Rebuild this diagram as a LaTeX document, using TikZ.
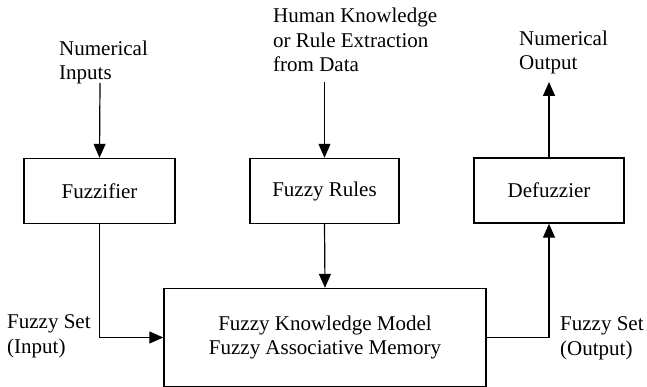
\documentclass[tikz,border=0pt]{standalone}
\usepackage{fontspec}
\setmainfont{Liberation Serif}
\usetikzlibrary{arrows.meta}
\begin{document}
\begin{tikzpicture}[x=1pt,y=-1pt,
  every node/.style={font=\fontsize{21}{24.5}\selectfont},
  block/.style={draw,line width=1.4pt,inner sep=0pt,align=center},
  lbl/.style={inner sep=0pt,align=left,anchor=base west},
  flow/.style={line width=1.2pt,-{Triangle[length=14pt,width=12pt]}}]
  \useasboundingbox (0,0) rectangle (647,387);

  % processing blocks
  \node[block,minimum width=151pt,minimum height=65pt] (fuzz)   at (99.5,191) {Fuzzifier};
  \node[block,minimum width=149pt,minimum height=65pt] (rules)  at (324.5,191) {Fuzzy Rules};
  \node[block,minimum width=150pt,minimum height=65pt] (defuzz) at (549,190.5) {Defuzzier};
  \node[block,minimum width=322pt,minimum height=98pt] (km)     at (325,337.5)
    {Fuzzy Knowledge Model\\Fuzzy Associative Memory};

  % outside labels (anchored on the baseline of their last line)
  \node[lbl] (numin)  at (59,80)   {Numerical\\Inputs};
  \node[lbl] (human)  at (273,72)  {Human Knowledge\\or Rule Extraction\\from Data};
  \node[lbl] (numout) at (519,70)  {Numerical\\Output};
  \node[lbl] (fsin)   at (7,353)   {Fuzzy Set\\(Input)};
  \node[lbl] (fsout)  at (560,355) {Fuzzy Set\\(Output)};

  % free ends of the outer arrows
  \coordinate (inTop)  at (100,83);
  \coordinate (hkTop)  at (324.5,82);
  \coordinate (outTop) at (549,82);

  % connectors
  \draw[flow] (inTop) -- (fuzz.north);
  \draw[flow] (hkTop) -- (rules.north);
  \draw[flow] (rules.south) -- (km.north);
  \draw[flow] (fuzz.south) |- (km.west);
  \draw[flow] (km.east) -| (defuzz.south);
  \draw[flow] (defuzz.north) -- (outTop);
\end{tikzpicture}
\end{document}
